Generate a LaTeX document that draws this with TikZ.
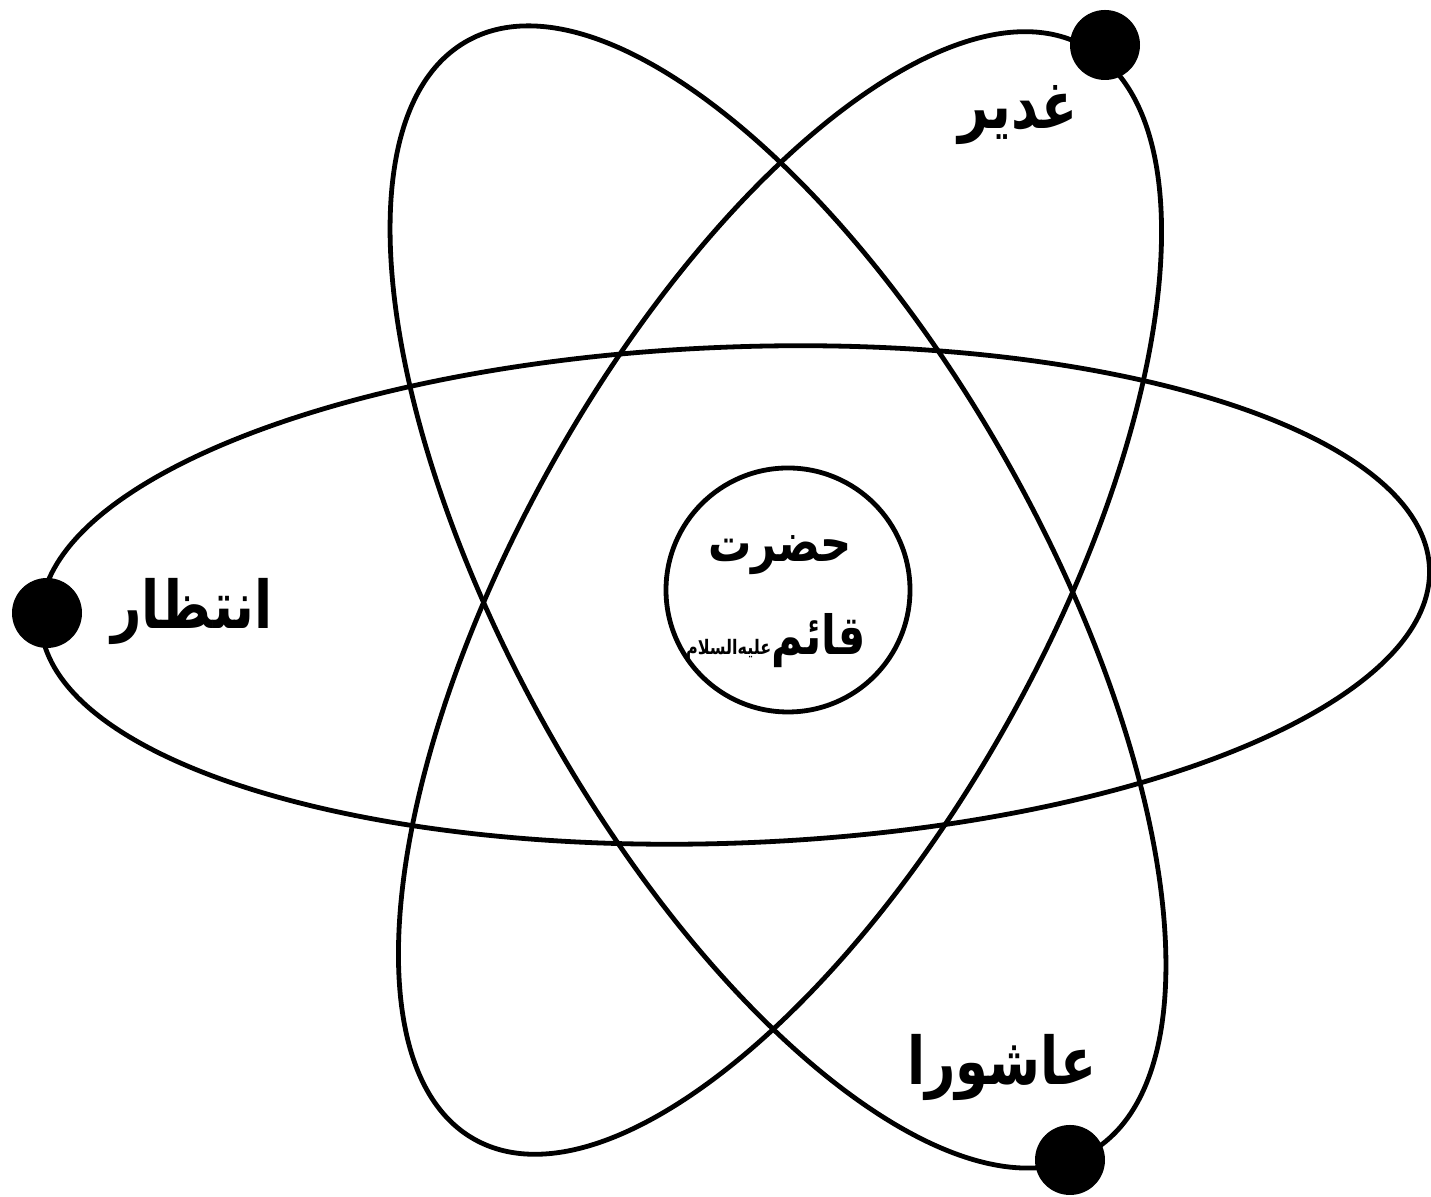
\documentclass[tikz,border=0pt]{standalone}
\usepackage{fontspec}
\TeXXeTstate=1
\newfontfamily\arabicfont[Script=Arabic,FakeStretch=0.8,BoldFont={DejaVu Sans Bold}]{DejaVu Sans}
\begin{document}
\begin{tikzpicture}[x=0.5pt,y=0.5pt,
  orbit/.style={draw=black,line width=2.4pt},
  electron/.style={circle,fill=black,inner sep=0pt,minimum size=35pt},
  nucleus/.style={circle,draw=black,line width=2.4pt,minimum size=122pt,inner sep=0pt},
  lbl/.style={font=\arabicfont\bfseries\fontsize{33}{37}\selectfont,inner sep=0pt},
  ctr/.style={font=\arabicfont\bfseries\fontsize{27}{30}\selectfont,inner sep=0pt}]
\useasboundingbox (0,0) rectangle (1431,1197);
% orbits
\draw[orbit,rotate around={2.2:(735,602)}] (735,602) ellipse (695 and 248);
\draw[orbit,rotate around={-60.8:(778,600)}] (778,600) ellipse (637 and 266);
\draw[orbit,rotate around={60.8:(780,604)}] (780,604) ellipse (626 and 262);
% nucleus
\node[nucleus] (core) at (788,607) {};
\node[ctr] (hazrat) at (780,642) {\beginR حضرت\endR};
\node[ctr] (qaem) at (776,556) {\beginR قائم{\fontsize{10}{11}\selectfont عليه‌السلام}\endR};
% electrons
\node[electron] (e1) at (47,584) {};
\node[electron] (e2) at (1105,1152) {};
\node[electron] (e3) at (1070,37) {};
% labels
\node[lbl] (intezar) at (192,585) {\beginR انتظار\endR};
\node[lbl] (ghadir) at (1018,1082) {\beginR غدیر\endR};
\node[lbl] (ashura) at (1002,130) {\beginR عاشورا\endR};
\end{tikzpicture}
\end{document}
